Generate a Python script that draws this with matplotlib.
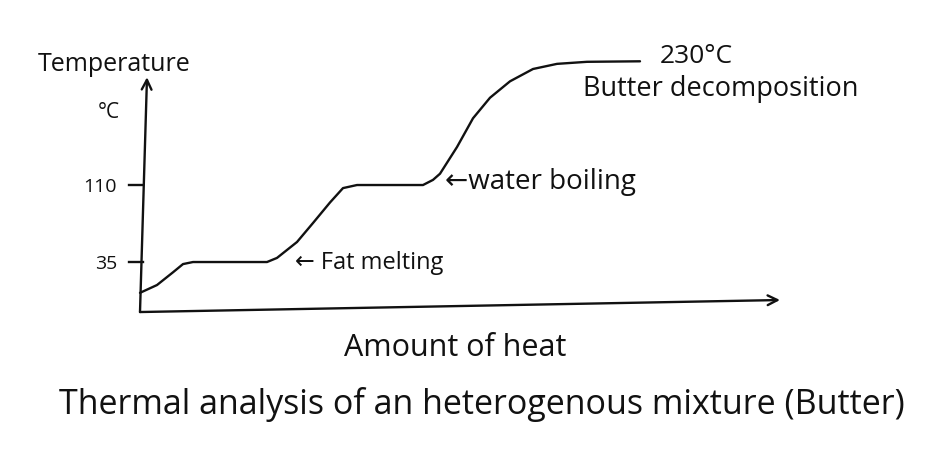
import matplotlib.pyplot as plt

plt.rcParams['font.family'] = ['Open Sans', 'DejaVu Sans']

# amount of heat (arbitrary units) and temperature (degC)
heat = [0, 3.4, 6.6, 8.6, 10.6, 25.4, 27.4, 31.4, 34.6, 38, 40.6, 43.4, 56.6,
        58.6, 60, 63.4, 66.6, 70, 74, 78.6, 83.4, 89.4, 100]
temp = [5, 12.6, 25, 33, 35, 35, 39, 54.5, 73, 93, 107, 110, 110,
        115, 121, 147, 175, 195, 211, 223, 228, 230, 230.5]

tick_vals = [110, 35]
tick_labels = ['110', '35']

fig = plt.figure(figsize=(9.53, 4.49), dpi=100)
ax = fig.add_axes([0, 0, 1, 1])
ax.set_xlim(-28, 162.6)
ax.set_ylim(-147.1, 290.2)
ax.axis('off')

lw = 1.7
ink = '#111111'

# curve
ax.plot(heat, temp, color=ink, lw=lw, solid_capstyle='round', solid_joinstyle='round')

# axes drawn as hand-style arrows
arrow = dict(arrowstyle='->,head_length=0.7,head_width=0.35', color=ink, lw=lw,
             shrinkA=0, shrinkB=0)
ax.annotate('', xy=(1.4, 215), xytext=(0, -13.7), arrowprops=arrow)
ax.annotate('', xy=(128, -2), xytext=(0, -13.7), arrowprops=arrow)

# ticks
for v, lab in zip(tick_vals, tick_labels):
    ax.plot([-2.2, 0.6], [v, v], color=ink, lw=lw)
    ax.text(-4.6, v - 2, lab, ha='right', va='center', fontsize=14, color=ink)

ax.text(-20.4, 227, 'Temperature', ha='left', va='center', fontsize=18, color=ink)
ax.text(-8.4, 181, '°C', ha='left', va='center', fontsize=15, color=ink)

ax.text(31, 34, '← Fat melting', ha='left', va='center', fontsize=17, color=ink)
ax.text(61, 113, '←water boiling', ha='left', va='center', fontsize=20, color=ink)
ax.text(104, 235, '230°C', ha='left', va='center', fontsize=19, color=ink)
ax.text(88.6, 204, 'Butter decomposition', ha='left', va='center', fontsize=19.5, color=ink)

ax.text(63, -49, 'Amount of heat', ha='center', va='center', fontsize=22, color=ink)
ax.text(68.4, -104, 'Thermal analysis of an heterogenous mixture (Butter)',
        ha='center', va='center', fontsize=24.5, color=ink)

fig.savefig('out.png', dpi=100, facecolor='white')
